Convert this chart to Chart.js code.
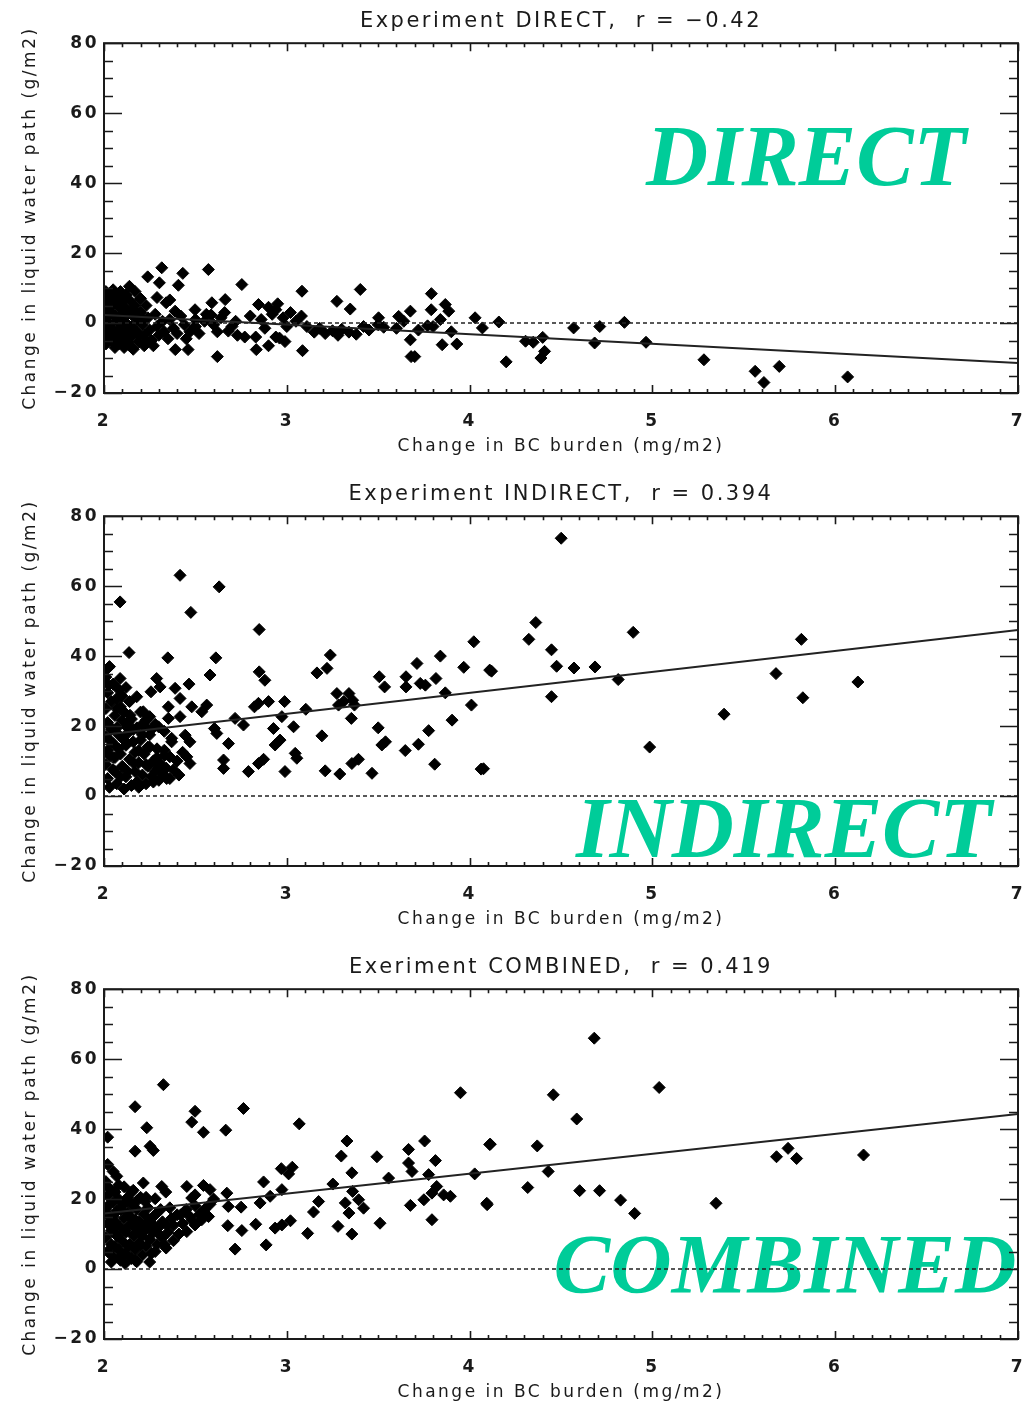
<!DOCTYPE html>
<html>
<head>
<meta charset="utf-8">
<title>Liquid water path vs BC burden</title>
<script src="https://cdn.jsdelivr.net/npm/chart.js@4/dist/chart.umd.min.js"></script>
<style>
  html, body { margin: 0; padding: 0; background: #fff; overflow: hidden; }
  .panel { position: absolute; left: 0; width: 1029px; height: 473px; }
</style>
</head>
<body>
<div class="panel" style="top:0px"><canvas id="direct"></canvas></div>
<div class="panel" style="top:473px"><canvas id="indirect"></canvas></div>
<div class="panel" style="top:946px"><canvas id="combined"></canvas></div>
<script>
// ---- axis ticks ----
const xTickValues = [2, 3, 4, 5, 6, 7];
const yTickValues = [-20, 0, 20, 40, 60, 80];
const xAxisTitle = 'Change in BC burden (mg/m2)';
const yAxisTitle = 'Change in liquid water path (g/m2)';

// ---- panel titles and labels ----
const panelTitles = [
  'Experiment DIRECT,  r = \u22120.42',
  'Experiment INDIRECT,  r = 0.394',
  'Exeriment COMBINED,  r = 0.419'
];
const panelLabels = ['DIRECT', 'INDIRECT', 'COMBINED'];

// ---- regression lines: [x, y] at both ends ----
const directFit = [[2, 2.3], [7, -11.45]];
const indirectFit = [[2, 17.5], [7, 47.5]];
const combinedFit = [[2, 15.9], [7, 44.3]];

// ---- scatter values: [BC burden change, LWP change] ----
const directPoints = [
  [2.01,9.0],[2.02,6.5],[2.01,4.0],[2.02,1.5],[2.01,-1.0],[2.02,-3.5],[2.01,-6.0],[2.03,8.0],[2.04,3.0],[2.03,-0.5],
  [2.04,-5.0],[2.05,9.5],[2.05,5.5],[2.06,2.0],[2.05,-2.0],[2.06,-4.5],[2.06,-7.0],[2.07,7.5],[2.08,4.5],[2.07,0.5],
  [2.08,-3.0],[2.08,-6.0],[2.09,9.0],[2.10,6.0],[2.10,2.5],[2.09,-1.5],[2.10,-4.0],[2.11,-7.0],[2.12,8.0],[2.12,4.0],
  [2.12,0.0],[2.13,-2.5],[2.13,-5.5],[2.14,6.5],[2.15,2.5],[2.15,-1.0],[2.15,-4.0],[2.16,-7.5],[2.17,9.0],[2.17,5.0],
  [2.18,1.0],[2.18,-2.5],[2.19,-5.5],[2.20,7.0],[2.20,3.0],[2.21,-0.5],[2.22,-3.5],[2.22,-6.5],[2.23,5.0],[2.24,1.5],
  [2.25,-2.0],[2.26,-5.0],[2.27,-6.5],[2.28,2.5],[2.29,-1.0],[2.30,-3.5],[2.32,0.5],[2.33,-2.5],[2.35,-4.5],[2.36,1.0],
  [2.38,-1.5],[2.40,-3.0],[2.42,2.0],[2.44,-0.5],[2.45,-4.5],[2.47,-2.5],[2.50,-1.0],[2.52,-3.0],[2.55,0.5],[2.56,2.5],
  [2.60,-0.5],[2.62,-2.5],[2.64,1.5],[2.66,3.0],[2.70,-1.0],[2.72,0.5],
  [2.03,5.0],[2.04,-2.5],[2.06,7.0],[2.07,-4.5],[2.09,1.5],[2.11,-2.0],[2.13,2.5],[2.14,-6.5],[2.16,4.0],[2.19,-3.5],
  [2.21,1.0],[2.23,-5.0],
  [2.316,15.8],[2.571,15.3],[2.239,13.2],[2.431,14.2],[2.303,11.5],[2.407,10.8],[2.754,11.0],[2.139,10.5],[3.083,9.1],[3.402,9.6],
  [3.791,8.4],[2.29,7.3],[2.36,6.6],[2.34,5.8],[2.59,5.8],[2.663,6.7],[3.274,6.2],[3.347,4.0],[2.845,5.3],[2.90,4.5],
  [2.95,5.5],[2.94,3.8],[3.867,5.3],[3.886,3.4],[3.79,3.8],[3.676,3.4],[3.612,1.9],[3.502,1.5],[2.498,3.8],[2.389,3.4],
  [4.03,1.5],[4.16,0.3],[4.07,-1.4],[4.20,-11.1],[2.62,-9.6],[3.086,-7.9],[2.833,-7.6],[2.90,-6.5],[2.99,-5.3],[2.94,-4.0],
  [2.96,-4.3],[2.83,-4.0],[2.46,-7.6],[2.39,-7.6],[3.676,-4.8],[3.68,-9.6],[3.70,-9.6],[3.85,-6.2],[3.93,-6.0],[3.77,-0.8],
  [3.11,-1.0],[3.18,-1.5],[3.21,-3.0],[3.25,-2.2],[3.30,-1.8],[3.34,-2.6],[3.38,-3.2],[3.45,-2.0],[3.50,-0.5],[3.53,-1.2],
  [3.15,-2.6],[3.42,-1.0],[3.28,-3.5],[2.77,-4.0],[2.73,-3.5],[2.68,-2.3],[2.586,2.3],[2.50,1.0],
  [2.80,2.0],[2.86,1.0],[2.92,2.5],[2.98,1.5],[3.02,3.0],[3.05,0.5],[3.08,2.0],[2.88,-1.5],[3.00,-1.0],
  [3.60,-1.5],[3.64,0.5],[3.72,-2.0],[3.80,-1.0],[3.84,1.0],[3.90,-2.5],
  [4.306,-5.2],[4.348,-5.5],[4.40,-4.1],[4.41,-8.1],[4.39,-10.0],[4.569,-1.4],[4.684,-5.7],[4.712,-1.0],[4.847,0.2],[4.965,-5.5],
  [5.282,-10.5],[5.562,-13.8],[5.61,-17.0],[5.694,-12.4],[6.068,-15.4]
];

const indirectPoints = [
  [2.01,34.0],[2.02,29.5],[2.01,25.0],[2.02,21.0],[2.01,17.0],[2.02,13.0],[2.01,9.0],[2.02,5.0],[2.03,2.5],[2.04,27.0],
  [2.04,19.0],[2.05,11.0],[2.05,15.0],[2.06,23.0],[2.06,7.0],[2.07,3.5],[2.08,30.5],[2.08,17.5],[2.09,12.0],[2.09,25.5],
  [2.10,21.5],[2.10,8.5],[2.11,2.0],[2.12,14.5],[2.12,5.5],[2.13,18.0],[2.14,10.5],[2.14,27.0],[2.15,3.0],[2.15,22.0],
  [2.16,15.5],[2.17,7.0],[2.17,12.5],[2.18,19.5],[2.18,4.0],[2.19,9.5],[2.20,16.0],[2.20,24.0],[2.21,6.0],[2.22,12.0],
  [2.22,20.0],[2.23,3.5],[2.24,8.5],[2.25,14.0],[2.25,17.5],[2.26,5.5],[2.27,10.0],[2.28,7.0],[2.29,13.5],[2.30,4.5],
  [2.31,9.0],[2.32,6.5],[2.33,11.5],[2.34,8.0],[2.36,5.0],[2.38,7.5],[2.40,10.0],[2.41,6.0],[2.43,12.5],[2.37,16.5],
  [2.33,18.5],[2.28,20.5],[2.05,32.0],[2.03,37.0],
  [2.03,20.0],[2.04,15.5],[2.06,11.0],[2.07,19.5],[2.08,13.5],[2.09,5.5],[2.11,24.0],[2.11,16.0],[2.13,7.0],[2.13,21.0],
  [2.16,19.0],[2.16,9.5],[2.19,13.0],[2.19,2.5],[2.21,17.5],[2.23,9.0],[2.24,14.0],[2.26,19.0],[2.27,4.0],[2.29,11.0],
  [2.03,11.5],[2.05,7.5],[2.07,25.0],[2.10,28.5],[2.12,31.0],
  [2.416,63.1],[2.63,59.8],[2.088,55.5],[2.475,52.5],[2.849,47.6],[2.137,41.0],[2.349,39.5],[2.612,39.5],[3.238,40.3],[4.023,44.1],
  [3.84,40.0],[3.712,37.9],[3.968,36.8],[4.11,36.0],[2.02,36.5],[2.088,33.6],[2.027,31.7],[2.288,33.6],[2.58,34.6],[2.849,35.5],
  [2.88,33.1],[3.165,35.2],[3.22,36.5],[3.506,34.1],[3.535,31.2],[3.652,34.1],[3.652,31.2],[3.73,32.2],[3.758,31.7],[3.816,33.6],
  [3.867,29.5],[2.307,31.2],[2.257,29.8],[2.389,30.8],[2.465,32.0],[2.416,27.9],[2.179,28.4],[2.07,27.9],[2.352,25.5],[2.48,25.5],
  [2.562,26.0],[2.535,24.1],[2.215,24.1],[2.142,23.1],[2.25,22.7],[2.23,21.7],[2.352,22.2],[2.416,22.7],[2.298,19.8],[2.215,20.8],
  [2.124,19.8],[2.604,19.3],[2.617,17.9],[2.717,22.2],[2.763,20.3],[2.823,25.5],[2.845,26.5],[2.90,27.0],[2.988,27.0],[2.973,22.7],
  [3.104,24.8],[2.927,19.3],[3.037,19.8],[3.274,29.3],[3.311,27.0],[3.34,29.3],[3.36,27.4],[3.37,26.0],[3.283,26.0],[3.353,22.2],
  [3.50,19.5],[4.01,26.0],[3.904,21.7],[3.776,18.7],[3.192,17.2],[3.52,14.6],[3.54,15.5],[3.648,13.0],[3.72,14.8],[3.809,9.1],
  [4.063,7.7],[2.681,15.0],[2.654,10.3],[2.654,7.9],[2.79,7.0],[2.845,9.3],[2.873,10.5],[2.936,14.6],[2.963,16.0],[3.046,12.2],
  [3.055,10.8],[2.99,7.0],[3.21,7.2],[3.29,6.3],[3.356,9.3],[3.392,10.5],[3.466,6.5],[2.444,17.4],[2.47,15.5],[2.453,11.2],
  [2.47,9.3],[2.37,15.5],[2.36,11.2],[2.33,13.1],[2.343,5.0],[2.288,9.8],[2.298,7.9],
  [4.501,73.7],[4.362,49.6],[4.324,44.8],[4.895,46.8],[5.815,44.8],[4.12,35.7],[4.448,41.8],[4.476,37.1],[4.571,36.6],[4.686,36.9],
  [4.813,33.3],[4.448,28.4],[5.676,35.0],[5.823,28.1],[6.124,32.6],[5.392,23.4],[4.985,14.0],[4.076,7.8]
];

const combinedPoints = [
  [2.01,25.0],[2.02,21.0],[2.01,17.0],[2.02,13.0],[2.01,9.0],[2.02,5.0],[2.03,23.0],[2.03,15.0],[2.04,11.0],[2.04,7.0],
  [2.05,19.0],[2.05,3.5],[2.06,22.0],[2.06,13.5],[2.07,9.5],[2.07,16.5],[2.08,5.5],[2.08,20.0],[2.09,12.0],[2.09,2.5],
  [2.10,18.0],[2.10,8.0],[2.11,14.5],[2.11,23.5],[2.12,10.5],[2.12,4.5],[2.13,20.5],[2.13,16.0],[2.14,7.0],[2.14,12.5],
  [2.15,3.0],[2.15,18.5],[2.16,9.5],[2.16,22.5],[2.17,14.0],[2.17,5.5],[2.18,11.0],[2.18,17.0],[2.19,7.5],[2.20,13.0],
  [2.20,20.5],[2.21,4.0],[2.21,9.5],[2.22,15.5],[2.23,11.5],[2.23,6.5],[2.24,17.5],[2.25,8.5],[2.26,13.0],[2.26,4.5],
  [2.27,10.5],[2.28,15.5],[2.29,7.0],[2.30,12.0],[2.31,17.0],[2.32,9.0],[2.34,6.0],[2.35,10.5],[2.36,17.5],[2.38,12.5],
  [2.40,15.5],[2.41,10.0],[2.43,13.0],[2.45,17.0],[2.48,14.0],[2.50,18.0],[2.52,15.5],[2.55,17.0],[2.58,18.5],[2.60,20.0],
  [2.03,18.5],[2.04,2.0],[2.05,15.0],[2.06,6.5],[2.07,12.5],[2.08,24.0],[2.09,17.0],[2.10,4.0],[2.11,11.0],[2.12,19.5],
  [2.13,6.5],[2.14,15.0],[2.15,22.0],[2.16,12.5],[2.17,2.5],[2.18,19.5],[2.19,13.5],[2.20,7.0],[2.22,11.0],[2.23,20.5],
  [2.24,13.5],[2.25,2.0],[2.27,15.0],[2.28,5.0],[2.29,10.5],[2.32,13.5],[2.33,7.0],
  [2.325,52.7],[2.17,46.4],[3.95,50.4],[2.763,45.9],[2.498,45.1],[2.48,42.0],[2.544,39.1],[2.666,39.7],[3.068,41.5],[2.02,37.7],
  [2.234,40.4],[2.252,35.1],[2.27,33.9],[2.17,33.7],[3.329,36.6],[3.754,36.6],[3.666,34.2],[3.298,32.3],[4.11,35.6],[3.493,32.1],
  [3.813,31.0],[3.666,30.3],[3.685,27.9],[3.356,27.5],[3.557,26.0],[3.776,27.0],[4.028,27.2],[2.97,28.7],[3.03,29.1],[3.01,27.2],
  [2.02,29.9],[2.07,26.5],[2.05,27.9],[2.215,24.6],[2.316,23.6],[2.338,22.0],[2.453,23.6],[2.544,23.9],[2.58,22.7],[2.498,21.2],
  [2.48,20.3],[2.672,21.7],[2.873,24.9],[2.973,22.7],[2.909,20.8],[2.854,18.9],[2.68,17.9],[2.75,17.7],[3.252,24.3],[3.36,22.2],
  [3.174,19.3],[3.146,16.3],[3.32,18.9],[3.34,16.0],[3.393,19.8],[3.42,17.4],[3.676,18.2],[3.75,19.8],[3.794,21.7],[3.82,23.6],
  [3.858,21.2],[3.895,20.8],[3.794,14.1],[4.096,18.4],[3.51,13.1],[3.28,12.2],[3.356,10.0],[3.114,10.2],[2.936,11.7],[2.973,12.6],
  [3.02,13.8],[2.83,12.8],[2.754,11.0],[2.677,12.4],[2.717,5.7],[2.887,6.9],[2.38,8.1],[2.453,10.7],[2.498,12.6],[2.535,14.1],
  [2.572,15.0],[2.37,14.5],[2.42,15.5],[2.47,15.0],[2.343,12.6],[2.225,19.3],[2.28,20.1],[2.115,1.6],[2.179,2.1],
  [4.682,66.0],[5.037,51.9],[4.458,49.8],[4.586,42.9],[4.113,35.7],[4.37,35.2],[4.43,27.9],[4.318,23.3],[4.094,18.8],[4.602,22.4],
  [4.711,22.4],[4.826,19.7],[4.903,15.9],[5.348,18.8],[5.679,32.1],[5.742,34.5],[5.789,31.6],[6.155,32.6]
];

const zeroLevel = 0;
const xMinorStep = 0.1;
const yMinorStep = 5;

// ---- appearance ----
const INK = '#1a1a1a';
const LABEL_GREEN = '#00CC99';
const AXIS_FONT = 'DejaVu Sans';

// Spaced-out lettering for axis text
const spacingPlugin = {
  id: 'spacing',
  beforeDraw(chart) { chart.ctx.letterSpacing = '2.5px'; }
};

// Boxed frame with inward ticks on all four sides
const framePlugin = {
  id: 'frame',
  afterDatasetsDraw(chart) {
    const { ctx, chartArea: a, scales: { x, y } } = chart;
    ctx.save();
    ctx.strokeStyle = INK;
    ctx.lineWidth = 1.6;
    ctx.beginPath();
    const nx = Math.round((x.max - x.min) / xMinorStep);
    for (let i = 0; i <= nx; i++) {
      const v = x.min + i * xMinorStep;
      const px = Math.round(x.getPixelForValue(v)) + 0.5;
      const len = (i % 10 === 0) ? 8 : 4;
      ctx.moveTo(px, a.bottom); ctx.lineTo(px, a.bottom - len);
      ctx.moveTo(px, a.top); ctx.lineTo(px, a.top + len);
    }
    const ny = Math.round((y.max - y.min) / yMinorStep);
    for (let i = 0; i <= ny; i++) {
      const v = y.min + i * yMinorStep;
      const py = Math.round(y.getPixelForValue(v)) + 0.5;
      const len = (i % 4 === 0) ? 18 : 9;
      ctx.moveTo(a.left, py); ctx.lineTo(a.left + len, py);
      ctx.moveTo(a.right, py); ctx.lineTo(a.right - len, py);
    }
    ctx.stroke();
    ctx.lineWidth = 2;
    ctx.strokeRect(a.left, a.top, a.right - a.left, a.bottom - a.top);
    ctx.restore();
  }
};

// Large experiment name drawn under the data
const bigLabelPlugin = {
  id: 'bigLabel',
  beforeDatasetsDraw(chart, args, opts) {
    const ctx = chart.ctx;
    ctx.save();
    ctx.letterSpacing = '0px';
    ctx.font = 'italic bold ' + opts.size + 'px "Liberation Serif", "DejaVu Serif", serif';
    ctx.fillStyle = LABEL_GREEN;
    ctx.textAlign = 'center';
    ctx.textBaseline = 'alphabetic';
    ctx.fillText(opts.text, opts.cx, opts.baseline);
    ctx.restore();
  }
};

function toXY(pairs) { return pairs.map(p => ({ x: p[0], y: p[1] })); }

function makePanel(canvasId, title, points, fit, label) {
  return new Chart(document.getElementById(canvasId), {
    type: 'scatter',
    data: {
      datasets: [
        { // regression line
          data: toXY(fit), showLine: true, pointRadius: 0,
          borderColor: '#222', borderWidth: 2, fill: false, clip: 0
        },
        { // zero reference
          data: [{ x: xTickValues[0], y: zeroLevel }, { x: xTickValues[xTickValues.length - 1], y: zeroLevel }],
          showLine: true, pointRadius: 0, borderColor: '#222', borderWidth: 1.6,
          borderDash: [4, 3], fill: false, clip: 0
        },
        { // model grid points
          data: toXY(points), pointStyle: 'rectRot', pointRadius: 6,
          backgroundColor: '#000', borderColor: '#000', borderWidth: 1, clip: 0
        }
      ]
    },
    options: {
      responsive: true, maintainAspectRatio: false, animation: false,
      events: [],
      layout: { autoPadding: false, padding: { left: 0, right: 11, top: 0, bottom: 0 } },
      plugins: {
        legend: { display: false },
        tooltip: { enabled: false },
        title: {
          display: true, text: title, fullSize: false, color: INK,
          font: { family: AXIS_FONT, size: 21, weight: 'normal', lineHeight: 1.2 },
          padding: { top: 9, bottom: 9 }
        },
        bigLabel: label
      },
      scales: {
        x: {
          type: 'linear', min: xTickValues[0], max: xTickValues[xTickValues.length - 1],
          afterBuildTicks: s => { s.ticks = xTickValues.map(v => ({ value: v })); },
          grid: { display: false, drawTicks: false },
          border: { display: false },
          ticks: { padding: 18, color: INK, font: { family: AXIS_FONT, size: 17, weight: 'bold' } },
          title: {
            display: true, text: xAxisTitle, color: INK,
            font: { family: AXIS_FONT, size: 17, lineHeight: 1.2 },
            padding: { top: 0, bottom: 16 }
          },
          afterFit: s => { s.height = 80; s.paddingLeft = 0; s.paddingRight = 0; }
        },
        y: {
          type: 'linear', min: yTickValues[0], max: yTickValues[yTickValues.length - 1],
          afterBuildTicks: s => { s.ticks = yTickValues.map(v => ({ value: v })); },
          grid: { display: false, drawTicks: false },
          border: { display: false },
          ticks: {
            padding: 5, color: INK, font: { family: AXIS_FONT, size: 17, weight: 'bold' },
            callback: v => (v < 0 ? '\u2212' + Math.abs(v) : String(v))
          },
          title: {
            display: true, text: yAxisTitle, color: INK,
            font: { family: AXIS_FONT, size: 17, lineHeight: 1.2 },
            padding: { top: 20, bottom: 0 }
          },
          afterFit: s => { s.width = 104; s.paddingTop = 0; s.paddingBottom = 0; }
        }
      }
    },
    plugins: [spacingPlugin, bigLabelPlugin, framePlugin]
  });
}

makePanel('direct', panelTitles[0], directPoints, directFit,
  { text: panelLabels[0], size: 86, cx: 806, baseline: 185 });
makePanel('indirect', panelTitles[1], indirectPoints, indirectFit,
  { text: panelLabels[1], size: 86, cx: 784, baseline: 384 });
makePanel('combined', panelTitles[2], combinedPoints, combinedFit,
  { text: panelLabels[2], size: 85, cx: 785, baseline: 347 });
</script>
</body>
</html>
